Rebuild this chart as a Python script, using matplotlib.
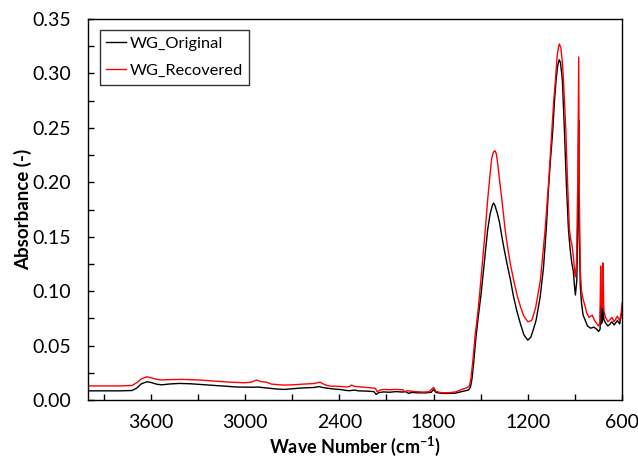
import numpy as np
import matplotlib
matplotlib.use('Agg')
import matplotlib.pyplot as plt
from matplotlib.ticker import MultipleLocator

plt.rcParams['font.family'] = ['Lato', 'DejaVu Sans']
plt.rcParams['mathtext.fontset'] = 'custom'
plt.rcParams['mathtext.rm'] = 'Lato'
plt.rcParams['mathtext.bf'] = 'Lato:bold'

# WG_Original
orig_wn = [4000, 3800, 3720, 3690, 3660, 3625, 3600, 3560, 3530, 3480, 3420, 3350, 3250, 3150,
           3050, 2950, 2920, 2880, 2800, 2750, 2700, 2630, 2560, 2530, 2500, 2450, 2400, 2340,
           2300, 2280, 2220, 2180, 2166, 2150, 2120, 2080, 2040, 2000, 1975, 1960, 1940, 1900,
           1850, 1815, 1800, 1785, 1750, 1700, 1660, 1630, 1600, 1578, 1565, 1555, 1545, 1530,
           1515, 1498, 1480, 1456, 1440, 1425, 1418, 1410, 1395, 1380, 1365, 1350, 1333, 1310,
           1291, 1270, 1248, 1225, 1200, 1180, 1160, 1147, 1121, 1100, 1083, 1068, 1055, 1041,
           1030, 1020, 1010, 1000, 992, 980, 967, 955, 941, 930, 920, 910, 903, 897, 888, 880,
           876, 872, 866, 858, 848, 835, 820, 800, 780, 760, 750, 740, 736, 732, 725, 721, 716,
           705, 690, 675, 665, 650, 630, 615, 605, 600]
orig_abs = [0.0085, 0.0085, 0.0088, 0.011, 0.015, 0.0168, 0.0162, 0.0145, 0.0140, 0.0148, 0.0153,
            0.0150, 0.0140, 0.0130, 0.0120, 0.0118, 0.0120, 0.0114, 0.0102, 0.0098, 0.0104,
            0.0112, 0.0116, 0.0124, 0.0114, 0.0104, 0.0098, 0.0086, 0.0092, 0.0085, 0.0082,
            0.0078, 0.0052, 0.0068, 0.0075, 0.0072, 0.0078, 0.0074, 0.0077, 0.0062, 0.0070,
            0.0067, 0.0066, 0.0072, 0.0098, 0.0070, 0.0062, 0.0061, 0.0064, 0.0075, 0.0085,
            0.0092, 0.012, 0.020, 0.034, 0.058, 0.077, 0.097, 0.122, 0.156, 0.171, 0.179, 0.181,
            0.179, 0.172, 0.163, 0.150, 0.138, 0.1256, 0.110, 0.095, 0.082, 0.0705, 0.060, 0.055,
            0.058, 0.067, 0.0735, 0.095, 0.122, 0.156, 0.195, 0.222, 0.248, 0.275, 0.294, 0.307,
            0.3125, 0.310, 0.294, 0.248, 0.200, 0.156, 0.138, 0.126, 0.118, 0.105, 0.0965,
            0.110, 0.180, 0.257, 0.150, 0.105, 0.089, 0.078, 0.0735, 0.068, 0.066, 0.067, 0.065,
            0.063, 0.065, 0.088, 0.070, 0.072, 0.093, 0.074, 0.071, 0.068, 0.070, 0.072, 0.069,
            0.073, 0.070, 0.078, 0.085]

# WG_Recovered
rec_wn = [4000, 3800, 3720, 3690, 3660, 3625, 3600, 3560, 3530, 3480, 3400, 3300, 3200, 3100,
          3002, 2960, 2928, 2900, 2864, 2832, 2780, 2748, 2700, 2626, 2560, 2525, 2490, 2462,
          2400, 2356, 2335, 2324, 2300, 2240, 2185, 2170, 2160, 2140, 2121, 2080, 2040, 1994,
          1985, 1965, 1920, 1870, 1830, 1800, 1785, 1750, 1700, 1660, 1620, 1589, 1572, 1562,
          1550, 1535, 1520, 1507, 1490, 1471, 1455, 1444, 1430, 1418, 1409, 1400, 1390, 1380,
          1362, 1344, 1328, 1312, 1290, 1266, 1245, 1225, 1200, 1185, 1174, 1150, 1120, 1090,
          1068, 1047, 1035, 1024, 1012, 1000, 990, 980, 973, 958, 947, 935, 925, 920, 910, 899,
          890, 882, 876, 872, 866, 858, 847, 835, 825, 810, 790, 775, 760, 750, 741, 736, 731,
          725, 721, 716, 705, 690, 675, 665, 650, 630, 615, 605, 600]
rec_abs = [0.0130, 0.0130, 0.0134, 0.016, 0.0195, 0.0214, 0.0205, 0.0190, 0.0185, 0.0188, 0.0190,
           0.0185, 0.0175, 0.0165, 0.0159, 0.0165, 0.0184, 0.0170, 0.0164, 0.0147, 0.0140,
           0.0138, 0.0140, 0.0147, 0.0152, 0.0165, 0.0140, 0.0129, 0.0126, 0.0120, 0.0125,
           0.0138, 0.0125, 0.0118, 0.0110, 0.0108, 0.0077, 0.0092, 0.0098, 0.0095, 0.0098,
           0.0094, 0.0077, 0.0086, 0.0078, 0.0074, 0.0076, 0.0116, 0.0080, 0.0067, 0.0068,
           0.0075, 0.0098, 0.0113, 0.013, 0.020, 0.036, 0.060, 0.078, 0.097, 0.125, 0.156, 0.185,
           0.202, 0.222, 0.228, 0.229, 0.226, 0.215, 0.202, 0.180, 0.156, 0.140, 0.1256, 0.110,
           0.095, 0.085, 0.077, 0.072, 0.0725, 0.0735, 0.085, 0.110, 0.156, 0.199, 0.248, 0.275,
           0.294, 0.318, 0.327, 0.324, 0.310, 0.294, 0.248, 0.200, 0.156, 0.146, 0.144, 0.132,
           0.113, 0.125, 0.200, 0.315, 0.190, 0.120, 0.100, 0.092, 0.086, 0.080, 0.076, 0.078,
           0.073, 0.070, 0.068, 0.071, 0.123, 0.088, 0.085, 0.126, 0.082, 0.076, 0.072, 0.074,
           0.076, 0.072, 0.077, 0.073, 0.080, 0.089]

x_ticks = [3600, 3000, 2400, 1800, 1200, 600]

fig = plt.figure(figsize=(6.38, 4.62), dpi=100)
ax = fig.add_axes([0.138, 0.134, 0.837, 0.825])

ax.plot(orig_wn, orig_abs, color='black', lw=1.0, label='WG_Original')
ax.plot(rec_wn, rec_abs, color='red', lw=1.0, label='WG_Recovered')

ax.set_xlim(4000, 600)
ax.set_ylim(0, 0.35)
ax.set_xticks(x_ticks)
ax.xaxis.set_minor_locator(MultipleLocator(300))
ax.yaxis.set_major_locator(MultipleLocator(0.05))
ax.yaxis.set_minor_locator(MultipleLocator(0.025))
ax.yaxis.set_major_formatter(plt.FormatStrFormatter('%.2f'))
ax.tick_params(which='both', direction='in', length=4, width=1, labelsize=14)
ax.tick_params(axis='x', pad=10)
ax.tick_params(axis='y', pad=12)
for s in ax.spines.values():
    s.set_linewidth(1.0)

ax.set_xlabel(r'Wave Number (cm$^{\mathbf{-1}}$)', fontsize=13, fontweight='bold', labelpad=3)
ax.set_ylabel('Absorbance (-)', fontsize=13.5, fontweight='bold', labelpad=0.5)

leg = ax.legend(loc='upper left', bbox_to_anchor=(0.022, 0.972), fontsize=11.8,
                frameon=True, fancybox=False, handlelength=1.2, handletextpad=0.2,
                borderpad=0.4, labelspacing=0.8, borderaxespad=0)
leg.get_frame().set_edgecolor('black')
leg.get_frame().set_linewidth(1.0)

plt.savefig('out.png', dpi=100)
